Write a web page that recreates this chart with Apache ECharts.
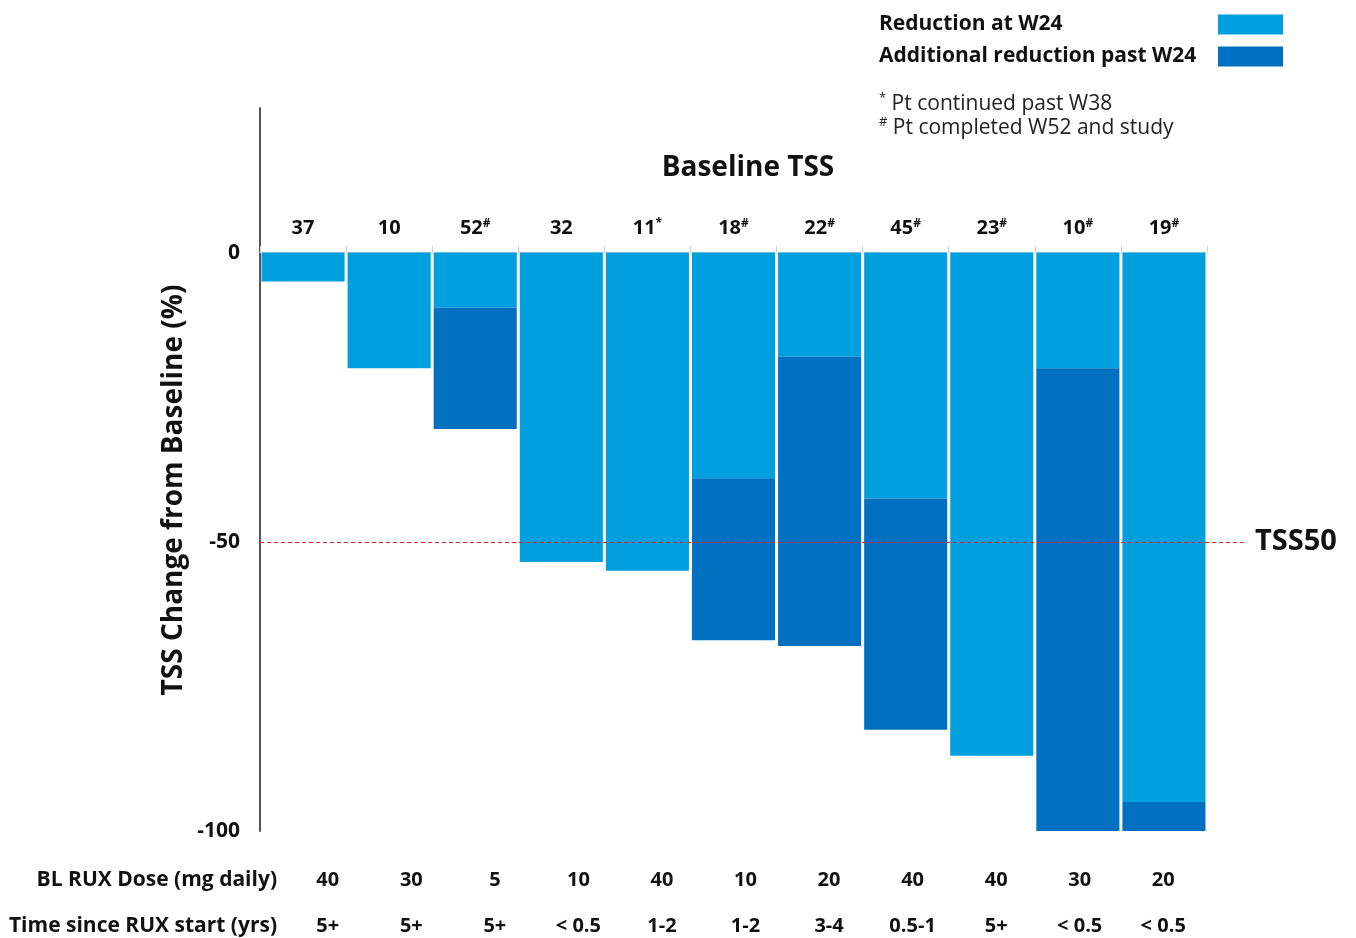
<!DOCTYPE html>
<html>
<head>
<meta charset="utf-8">
<script src="https://cdn.jsdelivr.net/npm/echarts@6/dist/echarts.min.js"></script>
<style>
html,body{margin:0;padding:0;background:#fff;}
#chart{width:1356px;height:938px;}
</style>
</head>
<body>
<div id="chart"></div>
<script>
// ---- data ----
var categories = ['37', '10', '52#', '32', '11*', '18#', '22#', '45#', '23#', '10#', '19#'];
var reductionW24 = [-5, -20, -9.5, -53.5, -55, -39, -18, -42.5, -87, -20, -95];
var additionalPastW24 = [null, null, -21, null, null, -28, -50, -40, null, -80, -5];
var doseLabels = ['40', '30', '5', '10', '40', '10', '20', '40', '40', '30', '20'];
var timeLabels = ['5+', '5+', '5+', '< 0.5', '1-2', '1-2', '3-4', '0.5-1', '5+', '< 0.5', '< 0.5'];
var yTicks = [0, -50, -100];
var thresholdValue = -50;

var FONT = 'Open Sans';
var LIGHT = '#00A0DF';
var DARK = '#0070C0';

var chart = echarts.init(document.getElementById('chart'), null, {renderer: 'canvas'});

function supFormat(v) {
  return String(v).replace(/([#*])/, '{sup|$1}');
}

var option = {
  backgroundColor: '#ffffff',
  animation: false,
  textStyle: {fontFamily: FONT},
  legend: {
    orient: 'vertical',
    left: 879,
    top: 14,
    padding: 0,
    align: 'right',
    itemWidth: 65,
    itemHeight: 20,
    itemGap: 11,
    icon: 'rect',
    data: ['Reduction at W24', 'Additional reduction past W24'],
    formatter: function (n) { return '{a|' + n + '}'; },
    textStyle: {
      rich: {
        a: {width: 334, align: 'left', fontFamily: FONT, fontWeight: 'bold', fontSize: 21, color: '#111'}
      }
    }
  },
  grid: [
    {left: 260, right: 149, top: 108, bottom: 107},
    {left: 286, right: 151, top: 108, bottom: 107},
    {left: 260, right: 111, top: 108, bottom: 107},
    {left: 260, right: 149, top: 252, bottom: 107}
  ],
  xAxis: [
    {type: 'category', gridIndex: 0, data: categories, show: false},
    {
      type: 'category', gridIndex: 1, position: 'bottom', data: doseLabels, offset: 31,
      axisLine: {show: false}, axisTick: {show: false},
      axisLabel: {margin: 8, interval: 0, fontFamily: FONT, fontWeight: 'bold', fontSize: 20, color: '#111'}
    },
    {
      type: 'category', gridIndex: 1, position: 'bottom', data: timeLabels, offset: 77,
      axisLine: {show: false}, axisTick: {show: false},
      axisLabel: {margin: 8, interval: 0, fontFamily: FONT, fontWeight: 'bold', fontSize: 20, color: '#111'}
    },
    {type: 'value', gridIndex: 2, min: 0, max: 1, show: false},
    {
      type: 'category', gridIndex: 3, position: 'top', data: categories,
      axisLine: {show: true, lineStyle: {color: '#dcdcdc', width: 1}},
      axisTick: {show: true, length: 6, lineStyle: {color: '#cfcfcf'}},
      axisLabel: {
        margin: 14, interval: 0, formatter: supFormat,
        fontFamily: FONT, fontWeight: 'bold', fontSize: 20, color: '#111',
        rich: {sup: {fontSize: 12, fontWeight: 'bold', verticalAlign: 'top', padding: [0, 0, 8, 0], color: '#111', fontFamily: FONT}}
      }
    }
  ],
  yAxis: [
    {
      type: 'value', gridIndex: 0, min: -100, max: 25, interval: 50,
      axisLine: {show: true, onZero: false, lineStyle: {color: '#555', width: 2}},
      axisTick: {show: false},
      splitLine: {show: false},
      axisLabel: {
        margin: 20, fontFamily: FONT, fontWeight: 'bold', fontSize: 21, color: '#111',
        formatter: function (v) { return yTicks.indexOf(v) >= 0 ? String(v) : ''; }
      }
    },
    {type: 'value', gridIndex: 1, min: -100, max: 25, show: false},
    {type: 'value', gridIndex: 2, min: -100, max: 25, show: false},
    {type: 'value', gridIndex: 3, min: -100, max: 0, show: false}
  ],
  series: [
    {
      name: 'Reduction at W24', type: 'bar', xAxisIndex: 0, yAxisIndex: 0, stack: 'tss',
      data: reductionW24, barCategoryGap: '3.5%',
      itemStyle: {color: LIGHT}
    },
    {
      name: 'Additional reduction past W24', type: 'bar', xAxisIndex: 0, yAxisIndex: 0, stack: 'tss',
      data: additionalPastW24, barCategoryGap: '3.5%',
      itemStyle: {color: DARK}
    },
    {
      name: 'threshold', type: 'line', xAxisIndex: 3, yAxisIndex: 2,
      data: [], showSymbol: false, silent: true,
      markLine: {
        silent: true, symbol: 'none',
        lineStyle: {color: '#e8202a', type: [4, 3], width: 1},
        label: {
          show: true, position: 'end', distance: 10, formatter: 'TSS50',
          fontFamily: FONT, fontWeight: 'bold', fontSize: 29, color: '#111'
        },
        data: [{yAxis: thresholdValue}]
      }
    }
  ],
  graphic: [
    {
      type: 'text', left: 879, top: 92, silent: true,
      style: {
        text: '{s|*} Pt continued past W38\n{s|#} Pt completed W52 and study',
        font: '21px "' + FONT + '"', fill: '#222', lineHeight: 24,
        rich: {s: {fontSize: 13, verticalAlign: 'top', padding: [0, 0, 6, 0], fill: '#222', fontFamily: FONT}}
      }
    },
    {
      type: 'text', silent: true,
      style: {text: 'Baseline TSS', x: 748, y: 168, textAlign: 'center', textVerticalAlign: 'middle',
        font: 'bold 28px "' + FONT + '"', fill: '#111'}
    },
    {
      type: 'text', silent: true, x: 174, y: 490, rotation: Math.PI / 2,
      style: {text: 'TSS Change from Baseline (%)', x: 0, y: 0, textAlign: 'center', textVerticalAlign: 'middle',
        font: 'bold 28px "' + FONT + '"', fill: '#111'}
    },
    {
      type: 'text', silent: true,
      style: {text: 'BL RUX Dose (mg daily)', x: 277, y: 880, textAlign: 'right', textVerticalAlign: 'middle',
        font: 'bold 21px "' + FONT + '"', fill: '#111'}
    },
    {
      type: 'text', silent: true,
      style: {text: 'Time since RUX start (yrs)', x: 277, y: 926, textAlign: 'right', textVerticalAlign: 'middle',
        font: 'bold 21px "' + FONT + '"', fill: '#111'}
    }
  ]
};
chart.setOption(option);
</script>
</body>
</html>
